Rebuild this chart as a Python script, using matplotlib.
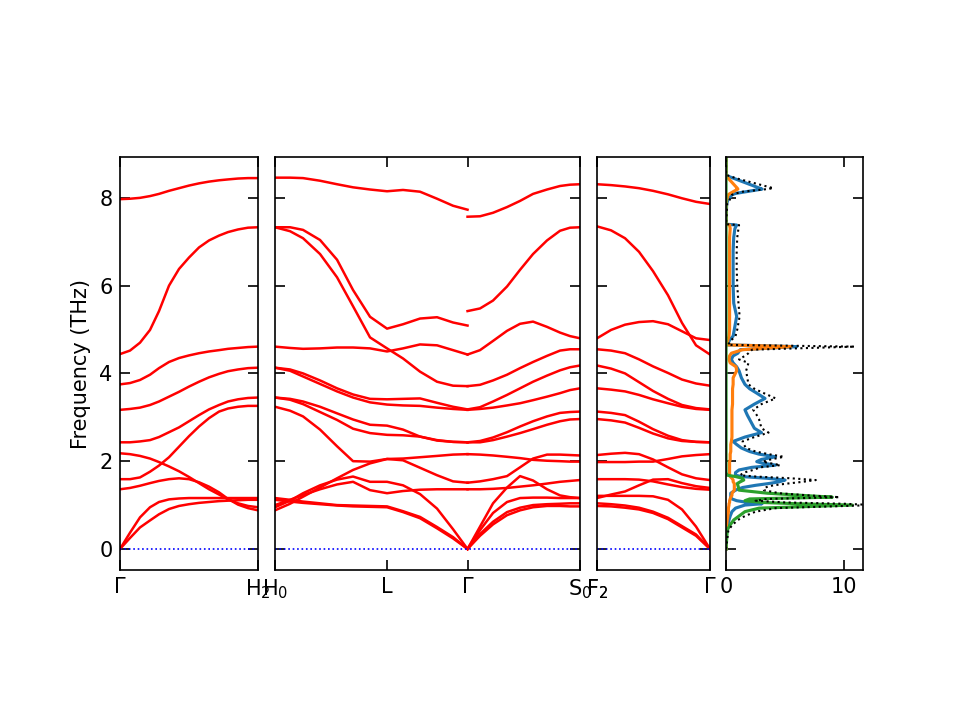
import matplotlib
matplotlib.use("Agg")
import matplotlib.pyplot as plt

# ---- band structure: path distances and frequencies (THz) ----
# panel 1: Gamma -> H2
x_gh = [0.0, 0.10, 0.20, 0.30, 0.39, 0.49, 0.59, 0.69, 0.79, 0.89, 0.99, 1.08, 1.18, 1.28, 1.38]
bands_gh = [
    [7.97, 7.98, 8.00, 8.04, 8.09, 8.16, 8.22, 8.28, 8.33, 8.37, 8.40, 8.42, 8.44, 8.45, 8.45],
    [4.44, 4.52, 4.70, 4.99, 5.42, 6.00, 6.38, 6.64, 6.87, 7.03, 7.14, 7.22, 7.28, 7.32, 7.33],
    [3.75, 3.78, 3.85, 3.97, 4.12, 4.26, 4.35, 4.41, 4.46, 4.50, 4.53, 4.56, 4.58, 4.60, 4.61],
    [3.17, 3.19, 3.22, 3.28, 3.36, 3.47, 3.58, 3.70, 3.81, 3.91, 3.99, 4.05, 4.09, 4.12, 4.13],
    [2.43, 2.43, 2.45, 2.48, 2.55, 2.66, 2.77, 2.91, 3.05, 3.18, 3.28, 3.36, 3.41, 3.44, 3.45],
    [1.59, 1.59, 1.63, 1.76, 1.90, 2.09, 2.33, 2.57, 2.79, 2.98, 3.13, 3.20, 3.24, 3.26, 3.26],
    [2.18, 2.16, 2.12, 2.06, 1.98, 1.88, 1.77, 1.64, 1.50, 1.36, 1.24, 1.13, 1.04, 0.98, 0.95],
    [1.36, 1.39, 1.44, 1.50, 1.55, 1.59, 1.61, 1.59, 1.52, 1.42, 1.29, 1.14, 1.01, 0.93, 0.88],
    [0.00, 0.37, 0.72, 0.95, 1.07, 1.13, 1.15, 1.16, 1.16, 1.16, 1.16, 1.16, 1.16, 1.16, 1.16],
    [0.00, 0.25, 0.49, 0.65, 0.79, 0.91, 0.98, 1.02, 1.05, 1.07, 1.09, 1.10, 1.11, 1.12, 1.12],
]

# panel 2: H0 -> L -> Gamma
x_hlg = [0.0, 0.15, 0.28, 0.45, 0.62, 0.78, 0.95, 1.12, 1.28, 1.45, 1.62, 1.78, 1.925]
bands_hlg = [
    [8.46, 8.46, 8.45, 8.39, 8.31, 8.24, 8.19, 8.15, 8.18, 8.14, 7.98, 7.82, 7.73],
    [7.33, 7.33, 7.27, 7.04, 6.59, 5.90, 5.29, 5.02, 5.12, 5.25, 5.28, 5.16, 5.09],
    [7.33, 7.24, 7.08, 6.72, 6.19, 5.53, 4.82, 4.57, 4.34, 4.04, 3.81, 3.72, 3.71],
    [4.61, 4.58, 4.56, 4.57, 4.59, 4.59, 4.57, 4.50, 4.57, 4.66, 4.64, 4.53, 4.43],
    [4.13, 4.09, 4.00, 3.84, 3.66, 3.52, 3.42, 3.41, 3.42, 3.43, 3.33, 3.24, 3.18],
    [4.13, 4.06, 3.93, 3.76, 3.59, 3.45, 3.34, 3.29, 3.27, 3.26, 3.22, 3.19, 3.17],
    [3.45, 3.42, 3.36, 3.24, 3.09, 2.95, 2.83, 2.81, 2.72, 2.56, 2.47, 2.44, 2.43],
    [3.45, 3.40, 3.30, 3.12, 2.94, 2.74, 2.64, 2.60, 2.59, 2.56, 2.48, 2.44, 2.43],
    [3.24, 3.15, 3.02, 2.72, 2.34, 2.00, 1.99, 2.05, 2.06, 2.09, 2.12, 2.15, 2.16],
    [0.88, 1.03, 1.19, 1.40, 1.61, 1.80, 1.95, 2.05, 2.02, 1.85, 1.68, 1.54, 1.51],
    [0.95, 1.10, 1.27, 1.45, 1.58, 1.65, 1.53, 1.53, 1.45, 1.25, 0.92, 0.45, 0.00],
    [1.00, 1.12, 1.23, 1.36, 1.47, 1.53, 1.34, 1.27, 1.32, 1.35, 1.36, 1.36, 1.36],
    [1.16, 1.12, 1.08, 1.04, 1.00, 0.99, 0.98, 0.97, 0.86, 0.73, 0.50, 0.27, 0.00],
    [1.12, 1.08, 1.05, 1.02, 0.99, 0.97, 0.96, 0.95, 0.84, 0.70, 0.47, 0.24, 0.00],
]

# panel 2: Gamma -> S0
x_gs = [1.925, 2.05, 2.18, 2.32, 2.45, 2.58, 2.72, 2.85, 2.95, 3.05]
bands_gs = [
    [7.57, 7.58, 7.66, 7.79, 7.93, 8.09, 8.19, 8.27, 8.30, 8.31],
    [5.42, 5.48, 5.66, 5.98, 6.36, 6.72, 7.03, 7.25, 7.32, 7.33],
    [4.43, 4.53, 4.74, 4.97, 5.13, 5.18, 5.06, 4.93, 4.85, 4.80],
    [3.71, 3.74, 3.84, 3.97, 4.12, 4.26, 4.40, 4.52, 4.55, 4.55],
    [3.18, 3.23, 3.36, 3.51, 3.66, 3.81, 3.95, 4.07, 4.14, 4.18],
    [3.17, 3.19, 3.22, 3.27, 3.32, 3.39, 3.47, 3.55, 3.62, 3.66],
    [2.43, 2.46, 2.54, 2.66, 2.79, 2.91, 3.02, 3.10, 3.12, 3.13],
    [2.43, 2.43, 2.48, 2.56, 2.64, 2.73, 2.83, 2.91, 2.95, 2.96],
    [2.16, 2.15, 2.13, 2.10, 2.07, 2.03, 2.01, 2.00, 1.99, 1.99],
    [1.51, 1.54, 1.59, 1.66, 1.86, 2.06, 2.15, 2.15, 2.14, 2.13],
    [1.36, 1.36, 1.37, 1.39, 1.42, 1.45, 1.49, 1.53, 1.55, 1.57],
    [0.00, 0.51, 1.04, 1.40, 1.66, 1.56, 1.36, 1.22, 1.18, 1.16],
    [0.00, 0.43, 0.82, 1.07, 1.16, 1.17, 1.17, 1.16, 1.16, 1.16],
    [0.00, 0.34, 0.62, 0.84, 0.94, 1.00, 1.02, 1.03, 1.04, 1.04],
    [0.00, 0.30, 0.56, 0.77, 0.88, 0.95, 0.98, 0.98, 0.97, 0.97],
]

# panel 3: S2 (F2) -> Gamma
x_sg = [0.0, 0.14, 0.28, 0.42, 0.56, 0.71, 0.85, 0.99, 1.13]
bands_sg = [
    [8.31, 8.29, 8.26, 8.22, 8.16, 8.08, 7.99, 7.91, 7.86],
    [7.35, 7.26, 7.08, 6.77, 6.33, 5.78, 5.15, 4.64, 4.43],
    [4.80, 4.99, 5.11, 5.17, 5.19, 5.12, 4.96, 4.80, 4.76],
    [4.55, 4.52, 4.46, 4.32, 4.16, 4.01, 3.86, 3.77, 3.72],
    [4.18, 4.11, 4.00, 3.80, 3.60, 3.42, 3.28, 3.21, 3.18],
    [3.66, 3.63, 3.59, 3.51, 3.41, 3.32, 3.24, 3.19, 3.17],
    [3.13, 3.10, 3.05, 2.90, 2.73, 2.58, 2.48, 2.44, 2.43],
    [2.96, 2.93, 2.88, 2.76, 2.63, 2.52, 2.46, 2.44, 2.43],
    [2.14, 2.17, 2.19, 2.16, 2.04, 1.86, 1.70, 1.61, 1.57],
    [1.98, 1.98, 1.98, 1.99, 1.99, 2.05, 2.11, 2.14, 2.16],
    [1.59, 1.59, 1.59, 1.58, 1.54, 1.47, 1.41, 1.37, 1.35],
    [1.16, 1.24, 1.31, 1.45, 1.58, 1.59, 1.50, 1.43, 1.39],
    [1.21, 1.21, 1.21, 1.21, 1.20, 1.12, 0.90, 0.51, 0.00],
    [1.04, 1.02, 0.99, 0.94, 0.85, 0.71, 0.52, 0.33, 0.00],
    [0.98, 0.97, 0.94, 0.90, 0.82, 0.68, 0.49, 0.30, 0.00],
]

# ---- phonon DOS ----
dos_freq = [0.00, 0.43, 0.55, 0.66, 0.75, 0.85, 0.93, 1.00, 1.03, 1.06, 1.10, 1.14, 1.18,
            1.22, 1.27, 1.34, 1.40, 1.45, 1.49, 1.53, 1.57, 1.61, 1.65, 1.68, 1.74, 1.80,
            1.86, 1.91, 1.96, 1.99, 2.04, 2.10, 2.16, 2.22, 2.30, 2.38, 2.45, 2.55, 2.65,
            2.75, 2.85, 2.95, 3.05, 3.17, 3.30, 3.43, 3.55, 3.65, 3.75, 3.90, 4.06, 4.15,
            4.24, 4.32, 4.40, 4.46, 4.54, 4.61, 4.65, 4.70, 4.76, 4.85, 5.00, 5.30, 5.60,
            6.00, 6.40, 6.80, 7.10, 7.30, 7.38, 7.40, 7.86, 7.95, 8.07, 8.10, 8.14, 8.20,
            8.22, 8.45, 8.49, 8.52, 8.93]
dos_total = [0.0, 0.2, 0.55, 1.0, 1.6, 2.5, 4.2, 12.5, 10.0, 5.0, 2.5, 3.5, 9.6,
             7.0, 4.5, 3.2, 3.3, 4.0, 5.2, 6.5, 7.6, 5.5, 2.5, 1.2, 1.5, 2.3,
             2.9, 4.6, 3.6, 3.1, 3.8, 4.9, 3.6, 2.5, 1.7, 1.5, 1.4, 2.4, 3.6,
             3.0, 2.9, 2.8, 2.6, 2.3, 3.0, 4.2, 3.2, 2.4, 1.9, 1.8, 1.7, 1.8,
             1.9, 1.1, 1.6, 1.9, 2.2, 10.9, 0.15, 0.3, 0.45, 0.8, 0.95, 1.15, 1.05,
             0.95, 0.9, 0.9, 0.95, 1.05, 1.1, 0.0, 0.1, 0.3, 0.5, 0.8, 1.4, 3.5,
             4.0, 0.8, 0.4, 0.0, 0.0]
dos_blue = [0.0, 0.05, 0.15, 0.25, 0.35, 0.5, 0.8, 1.6, 3.05, 1.8, 0.9, 0.5, 0.4,
            0.4, 0.4, 0.8, 1.4, 2.5, 3.6, 4.5, 5.0, 3.5, 1.3, 0.8, 0.8, 1.1,
            2.2, 4.2, 3.0, 2.6, 3.0, 4.2, 2.8, 2.0, 1.3, 0.9, 0.6, 1.6, 3.0,
            2.4, 2.2, 2.0, 1.8, 1.6, 2.4, 3.3, 2.6, 2.0, 1.6, 1.3, 1.1, 0.9,
            0.6, 0.45, 0.6, 1.0, 1.2, 6.0, 0.1, 0.2, 0.3, 0.6, 0.7, 0.9, 0.65,
            0.6, 0.6, 0.6, 0.65, 0.75, 0.9, 0.0, 0.05, 0.15, 0.5, 0.8, 1.7, 3.05,
            2.85, 0.6, 0.2, 0.0, 0.0]
dos_orange = [0.0, 0.03, 0.05, 0.1, 0.15, 0.2, 0.2, 0.25, 0.25, 0.3, 0.3, 0.35, 0.4,
              0.5, 0.5, 0.7, 0.7, 0.7, 0.7, 0.6, 0.6, 0.5, 0.35, 0.3, 0.3, 0.3,
              0.3, 0.3, 0.3, 0.3, 0.35, 0.35, 0.35, 0.4, 0.4, 0.4, 0.45, 0.5, 0.5,
              0.5, 0.5, 0.5, 0.5, 0.5, 0.55, 0.55, 0.55, 0.55, 0.6, 0.6, 0.9, 0.85,
              0.35, 0.25, 0.3, 0.45, 1.4, 5.5, 0.05, 0.1, 0.15, 0.25, 0.3, 0.3, 0.3,
              0.3, 0.3, 0.3, 0.3, 0.35, 0.3, 0.0, 0.0, 0.05, 0.17, 0.35, 0.6, 1.0,
              0.95, 0.17, 0.05, 0.0, 0.0]
dos_green = [0.0, 0.1, 0.35, 0.65, 1.1, 1.6, 2.8, 10.7, 6.0, 3.0, 1.6, 2.0, 9.0,
             6.5, 3.5, 1.1, 1.05, 1.0, 0.95, 1.2, 1.5, 1.4, 0.8, 0.1, 0.0, 0.0,
             0.0, 0.0, 0.0, 0.0, 0.0, 0.0, 0.0, 0.0, 0.0, 0.0, 0.0, 0.0, 0.0,
             0.0, 0.0, 0.0, 0.0, 0.0, 0.0, 0.0, 0.0, 0.0, 0.0, 0.0, 0.0, 0.0,
             0.0, 0.0, 0.0, 0.0, 0.0, 0.0, 0.0, 0.0, 0.0, 0.0, 0.0, 0.0, 0.0,
             0.0, 0.0, 0.0, 0.0, 0.0, 0.0, 0.0, 0.0, 0.0, 0.0, 0.0, 0.0, 0.0,
             0.0, 0.0, 0.0, 0.0, 0.0]

# tick positions / labels for the special points
ticks_gh = [0.0, 1.38]
labels_gh = ["$\\Gamma$", "H$_2$"]
ticks_hlg = [0.0, 1.12, 1.925, 3.05]
labels_hlg = ["H$_0$", "L", "$\\Gamma$", "S$_0$"]
ticks_sg = [0.0, 0.0, 1.13]
labels_sg = ["S$_2$", "F$_2$", "$\\Gamma$"]

ymin, ymax = -0.48, 8.93

fig = plt.figure(figsize=(6.4, 4.8), dpi=150)
bottom, height = 0.2083, 0.5736
ax1 = fig.add_axes([0.125, bottom, 0.1438, height])
ax2 = fig.add_axes([0.2865, bottom, 0.3177, height])
ax3 = fig.add_axes([0.6219, bottom, 0.1177, height])
ax4 = fig.add_axes([0.7563, bottom, 0.1427, height])


def style(ax):
    ax.set_ylim(ymin, ymax)
    ax.set_yticks([0, 2, 4, 6, 8])
    ax.tick_params(direction="in", top=True, right=True, length=5)


for b in bands_gh:
    ax1.plot(x_gh, b, color="r", lw=1.2)
ax1.axhline(0, color="b", ls=":", lw=0.8)
ax1.set_xlim(0, 1.38)
ax1.set_xticks(ticks_gh)
ax1.set_xticklabels(labels_gh)
ax1.set_ylabel("Frequency (THz)")
style(ax1)

for b in bands_hlg:
    ax2.plot(x_hlg, b, color="r", lw=1.2)
for b in bands_gs:
    ax2.plot(x_gs, b, color="r", lw=1.2)
ax2.axhline(0, color="b", ls=":", lw=0.8)
ax2.set_xlim(0, 3.05)
ax2.set_xticks(ticks_hlg)
ax2.set_xticklabels(labels_hlg)
style(ax2)
ax2.set_yticklabels([])

for b in bands_sg:
    ax3.plot(x_sg, b, color="r", lw=1.2)
ax3.axhline(0, color="b", ls=":", lw=0.8)
ax3.set_xlim(0, 1.13)
ax3.set_xticks(ticks_sg)
ax3.set_xticklabels(labels_sg)
style(ax3)
ax3.set_yticklabels([])

# DOS panel
ax4.plot(dos_blue, dos_freq, color="C0", lw=1.5)
ax4.plot(dos_orange, dos_freq, color="C1", lw=1.5)
ax4.plot(dos_green, dos_freq, color="C2", lw=1.5)
ax4.plot(dos_total, dos_freq, color="k", ls=":", lw=1.0)
ax4.set_xlim(0, 11.6)
ax4.set_xticks([0, 10])
style(ax4)
ax4.set_yticklabels([])

fig.savefig("out.png", dpi=150)
